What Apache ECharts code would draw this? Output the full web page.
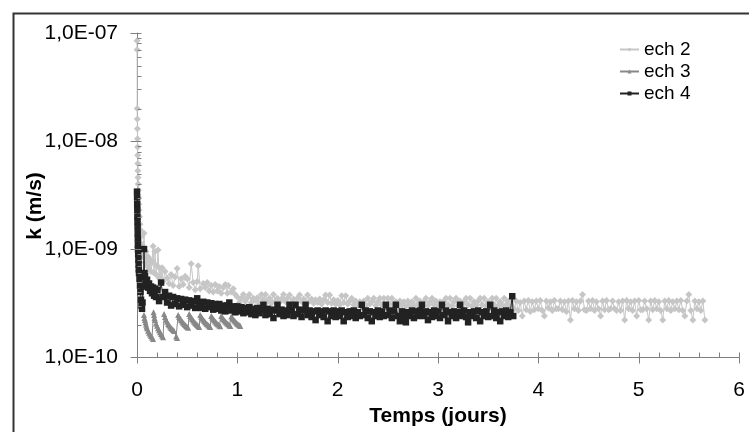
<!DOCTYPE html>
<html>
<head>
<meta charset="utf-8">
<script src="https://cdn.jsdelivr.net/npm/echarts@6/dist/echarts.min.js"></script>
<style>
html,body{margin:0;padding:0;background:#fff;}
#chart{width:749px;height:432px;}
</style>
</head>
<body>
<div id="chart"></div>
<script>
// k values are given in units of 1e-10 m/s
var K_UNIT = 1e-10;

var seriesNames = ['ech 2', 'ech 3', 'ech 4'];
var xTitle = 'Temps (jours)';
var yTitle = 'k (m/s)';

// ech 2 : [time (days), k (1e-10 m/s)]
var ech2 = [
[0,850],[0.001,700],[0.002,200],[0.003,160],[0.004,130],[0.005,105],[0.006,88],[0.007,74],[0.008,62],[0.009,53],
[0.01,46],[0.012,40],[0.014,35],[0.016,30],[0.018,26],[0.02,23],[0.025,20],[0.03,17],[0.035,15],[0.04,13],
[0.05,11],[0.06,8.5],[0.07,14],[0.08,7.5],[0.09,9.5],[0.10,7.0],[0.11,8.5],[0.12,6.5],[0.13,8.0],[0.14,6.2],
[0.15,7.5],[0.16,10.6],[0.17,6.0],[0.18,9.5],[0.19,5.8],[0.20,7.0],[0.21,9.8],[0.22,5.4],[0.23,6.6],[0.24,5.2],
[0.25,6.7],[0.26,5.0],[0.28,6.2],[0.30,5.4],[0.32,4.8],[0.34,5.8],[0.36,4.6],[0.38,5.5],[0.40,6.6],[0.42,4.5],
[0.44,5.3],[0.46,4.7],[0.48,5.6],[0.50,5.3],[0.52,4.4],[0.54,7.3],[0.56,4.9],[0.58,4.2],[0.60,5.0],[0.61,7.0],
[0.63,4.3],[0.66,4.8],[0.68,4.4],[0.70,4.9],[0.72,4.1],[0.74,4.6],[0.76,4.0],[0.78,4.7],[0.80,4.1],[0.82,4.5],
[0.84,3.9],[0.86,4.4],[0.88,4.7],[0.90,3.9],[0.91,4.6],[0.94,4.0],[0.96,4.3],[0.98,3.8],
[1.00,3.6],[1.02,3.2],[1.04,3.5],[1.06,3.8],[1.08,3.3],[1.10,3.55],[1.12,3.8],[1.14,3.2],[1.16,3.5],[1.18,3.35],
[1.20,3.55],[1.22,3.15],[1.24,3.8],[1.26,3.4],[1.28,3.8],[1.30,3.25],[1.32,3.5],[1.34,3.15],[1.36,3.8],[1.38,3.3],
[1.40,3.5],[1.42,3.2],[1.44,3.45],[1.46,3.8],[1.48,3.25],[1.50,3.5],[1.52,3.75],[1.54,3.2],[1.56,3.45],[1.58,3.1],
[1.60,3.5],[1.62,3.75],[1.64,3.25],[1.66,3.45],[1.68,3.1],[1.70,3.75],[1.72,3.3],[1.74,3.45],[1.76,3.15],[1.78,3.4],
[1.80,3.2],[1.82,3.45],[1.84,3.1],[1.86,3.4],[1.88,3.75],[1.90,3.2],[1.92,3.75],[1.94,3.15],[1.96,3.4],[1.98,3.1],
[2.00,3.35],[2.02,3.05],[2.04,3.7],[2.06,3.2],[2.08,3.7],[2.10,3.1],[2.12,3.3],[2.14,3.5],[2.16,3.05],[2.18,3.3],
[2.20,3.0],[2.22,3.25],[2.24,3.05],[2.26,3.3],[2.28,3.0],[2.30,3.5],[2.32,3.1],[2.34,3.25],[2.36,3.5],[2.38,3.0],
[2.40,3.25],[2.42,3.5],[2.44,3.05],[2.46,3.5],[2.48,3.0],[2.50,3.5],[2.52,3.1],[2.54,3.5],[2.56,3.0],[2.58,3.25],
[2.60,2.95],[2.62,3.3],[2.64,3.0],[2.66,3.25],[2.68,2.95],[2.70,3.3],[2.72,3.05],[2.74,3.25],[2.76,2.95],[2.78,3.5],
[2.80,3.1],[2.82,3.3],[2.84,2.95],[2.86,3.25],[2.88,3.5],[2.90,3.0],[2.92,3.25],[2.94,3.5],[2.96,3.05],[2.98,3.3],
[3.00,2.95],[3.02,3.25],[3.04,3.0],[3.06,3.3],[3.08,3.5],[3.10,3.05],[3.12,3.5],[3.14,2.95],[3.16,3.25],[3.18,3.5],
[3.20,3.0],[3.22,3.3],[3.24,2.95],[3.26,3.25],[3.28,3.5],[3.30,3.05],[3.32,3.5],[3.34,2.95],[3.36,3.25],[3.38,3.0],
[3.40,3.3],[3.42,3.5],[3.44,3.05],[3.46,3.5],[3.48,2.95],[3.50,3.25],[3.52,3.0],[3.54,3.5],[3.56,3.05],[3.58,3.5],
[3.60,2.95],[3.62,3.25],[3.64,3.0],[3.66,3.5],[3.68,3.05],[3.70,3.3],[3.72,2.95],[3.74,3.5],
[3.76,2.8],[3.78,3.3],[3.80,2.7],[3.82,3.2],[3.84,2.4],[3.86,3.3],[3.88,2.75],[3.90,3.35],[3.92,2.65],[3.94,3.25],
[3.96,2.75],[3.98,3.3],[4.00,2.8],[4.02,3.35],[4.04,2.7],[4.06,2.4],[4.08,3.3],[4.10,2.85],[4.12,3.25],[4.14,2.7],
[4.16,3.35],[4.18,2.8],[4.20,2.8],[4.22,3.3],[4.24,2.75],[4.26,3.25],[4.28,2.65],[4.30,3.3],[4.32,2.2],[4.34,3.35],
[4.36,2.8],[4.38,3.25],[4.40,2.7],[4.42,3.3],[4.44,3.8],[4.46,2.75],[4.48,2.7],[4.50,3.3],[4.52,2.8],[4.54,3.35],
[4.56,2.7],[4.58,3.25],[4.60,2.8],[4.62,2.4],[4.64,3.3],[4.66,2.75],[4.68,3.35],[4.70,2.75],[4.72,2.8],[4.74,3.3],
[4.76,2.8],[4.78,2.7],[4.80,3.25],[4.82,2.7],[4.84,3.3],[4.86,2.2],[4.88,3.35],[4.90,2.8],[4.92,3.25],[4.94,2.7],
[4.96,3.3],[4.98,2.4],[5.00,3.35],[5.02,2.75],[5.04,2.75],[5.06,3.3],[5.08,2.8],[5.10,2.2],[5.12,3.3],[5.14,2.75],
[5.16,3.35],[5.18,2.8],[5.20,3.25],[5.22,2.7],[5.24,2.2],[5.26,3.3],[5.28,2.8],[5.30,3.35],[5.32,2.7],[5.34,3.25],
[5.36,2.8],[5.38,3.3],[5.40,2.75],[5.42,3.35],[5.44,2.7],[5.46,2.4],[5.48,3.3],[5.50,3.8],[5.52,2.7],[5.54,2.2],
[5.56,3.3],[5.58,2.8],[5.60,3.25],[5.62,2.7],[5.64,3.3],[5.66,2.2]
];

// ech 3 : [time (days), k (1e-10 m/s)]
var ech3 = [
[0.07,2.45],[0.075,2.3],[0.08,2.2],[0.085,2.1],[0.09,2.0],[0.095,1.92],[0.10,1.85],[0.11,1.75],[0.12,1.68],[0.13,1.62],
[0.14,1.57],[0.15,1.52],[0.16,1.47],
[0.165,2.6],[0.17,2.45],[0.175,2.3],[0.18,2.2],[0.19,2.05],[0.20,1.95],[0.21,1.85],[0.22,1.77],[0.23,1.7],[0.24,1.64],
[0.25,1.58],[0.26,1.53],
[0.27,2.5],[0.28,2.35],[0.29,2.22],[0.30,2.12],[0.31,2.03],[0.32,1.97],[0.33,1.91],[0.34,1.86],[0.35,1.82],[0.36,1.78],
[0.37,1.74],[0.39,1.55],[0.40,1.5],
[0.41,2.45],[0.42,2.35],[0.43,2.28],[0.44,2.2],[0.45,2.14],[0.46,2.08],[0.47,2.03],[0.48,1.98],[0.49,1.94],[0.50,1.9],[0.51,1.87],
[0.52,2.5],[0.53,2.4],[0.54,2.32],[0.55,2.25],[0.56,2.18],[0.57,2.12],[0.58,2.07],[0.59,2.02],[0.60,1.98],[0.61,1.94],[0.62,1.9],
[0.63,2.45],[0.64,2.36],[0.65,2.28],[0.66,2.22],[0.67,2.16],[0.68,2.1],[0.69,2.05],[0.70,2.01],[0.71,1.97],[0.72,1.93],[0.73,1.9],
[0.74,2.4],[0.75,2.32],[0.76,2.25],[0.77,2.19],[0.78,2.13],[0.79,2.08],[0.80,2.04],[0.81,2.0],[0.82,1.96],[0.83,1.93],
[0.84,2.4],[0.85,2.32],[0.86,2.25],[0.87,2.19],[0.88,2.14],[0.89,2.09],[0.90,2.05],[0.91,2.01],[0.92,1.97],[0.93,1.94],
[0.94,2.38],[0.95,2.3],[0.96,2.24],[0.97,2.18],[0.98,2.13],[0.99,2.08],[1.00,2.04],[1.01,2.0],[1.02,1.97],[1.03,1.94]
];

// ech 4 : [time (days), k (1e-10 m/s)]
var ech4 = [
[0,34],[0.001,30],[0.002,26],[0.003,23],[0.004,20],[0.005,18],[0.006,16],[0.007,14],[0.008,12.5],[0.009,11],
[0.01,10],[0.012,9],[0.014,8],[0.016,7.2],[0.018,6.5],[0.02,6],[0.025,5.3],[0.03,4.6],[0.035,4],[0.04,3.4],
[0.045,3],[0.05,2.8],[0.055,3.2],[0.06,4.5],[0.065,5.5],[0.07,10],[0.075,6],[0.08,5.6],[0.09,4.8],[0.1,5.2],
[0.11,4.4],[0.12,4.8],[0.13,4.1],[0.14,4.5],[0.15,3.9],[0.16,4.4],[0.17,3.7],[0.18,4.3],[0.19,3.6],
[0.20,4.2],[0.22,3.3],[0.24,4.9],[0.26,3.6],[0.28,4.0],[0.30,3.2],[0.32,3.7],[0.34,3.0],[0.36,3.6],[0.38,3.1],
[0.40,3.5],[0.42,2.95],[0.44,3.45],[0.46,3.05],[0.48,3.4],[0.50,2.9],[0.52,3.35],[0.54,3.0],[0.56,3.3],[0.58,2.85],
[0.60,3.5],[0.62,3.2],[0.64,2.85],[0.66,3.25],[0.68,2.8],[0.70,3.2],[0.72,2.9],[0.74,3.15],[0.76,2.75],[0.78,3.1],
[0.80,2.8],[0.82,3.1],[0.84,2.7],[0.86,3.0],[0.88,2.65],[0.90,3.0],[0.92,3.2],[0.94,2.7],[0.96,2.95],[0.98,2.6],
[1.00,2.95],[1.02,2.65],[1.04,2.9],[1.06,2.55],[1.08,2.85],[1.10,2.6],[1.12,2.9],[1.14,2.5],[1.16,2.8],[1.18,2.45],
[1.20,2.85],[1.22,2.55],[1.24,2.8],[1.26,3.05],[1.28,2.45],[1.30,2.8],[1.32,2.5],[1.34,2.75],[1.36,2.3],[1.38,2.7],
[1.40,3.05],[1.42,2.5],[1.44,2.75],[1.46,2.4],[1.48,2.7],[1.50,2.45],[1.52,3.05],[1.54,2.7],[1.56,2.4],[1.58,3.05],
[1.60,2.5],[1.62,2.75],[1.64,2.35],[1.66,2.7],[1.68,3.05],[1.70,2.45],[1.72,2.7],[1.74,2.35],[1.76,2.65],[1.78,2.2],
[1.80,2.7],[1.82,2.45],[1.84,2.65],[1.86,2.35],[1.88,2.7],[1.90,2.15],[1.92,2.65],[1.94,2.4],[1.96,2.7],[1.98,2.35],
[2.00,2.65],[2.02,2.4],[2.04,2.7],[2.06,2.15],[2.08,2.6],[2.10,2.35],[2.12,2.65],[2.14,2.4],[2.16,2.7],[2.18,2.3],
[2.20,2.6],[2.22,2.4],[2.24,3.05],[2.26,2.45],[2.28,2.7],[2.30,2.3],[2.32,2.65],[2.34,2.15],[2.36,2.6],[2.38,2.4],
[2.40,2.7],[2.42,2.35],[2.44,2.65],[2.46,2.4],[2.48,3.05],[2.50,2.45],[2.52,2.7],[2.54,2.3],[2.56,2.65],[2.58,3.05],
[2.60,2.4],[2.62,2.15],[2.64,2.65],[2.66,2.35],[2.68,2.1],[2.70,2.6],[2.72,2.4],[2.74,2.7],[2.76,2.3],[2.78,2.65],
[2.80,2.4],[2.82,2.7],[2.84,3.05],[2.86,2.4],[2.88,2.65],[2.90,2.2],[2.92,2.6],[2.94,2.35],[2.96,2.7],[2.98,2.4],
[3.00,2.65],[3.02,2.3],[3.04,3.05],[3.06,2.45],[3.08,2.7],[3.10,2.15],[3.12,2.6],[3.14,2.4],[3.16,2.65],[3.18,2.3],
[3.20,2.6],[3.22,3.05],[3.24,2.4],[3.26,2.7],[3.28,2.35],[3.30,2.1],[3.32,2.6],[3.34,2.4],[3.36,2.65],[3.38,2.3],
[3.40,2.7],[3.42,2.15],[3.44,2.6],[3.46,2.4],[3.48,2.65],[3.50,2.35],[3.52,3.05],[3.54,2.4],[3.56,2.7],[3.58,2.3],
[3.60,2.6],[3.62,2.15],[3.64,2.65],[3.66,2.4],[3.68,2.7],[3.70,2.35],[3.72,2.6],[3.74,3.66],[3.75,2.4]
];

// axis ticks
var xMajor = [0, 1, 2, 3, 4, 5, 6];
var xMinorStep = 0.2;
var yMajor = [1e-10, 1e-9, 1e-8, 1e-7];
var yMinorMult = [2, 3, 4, 5, 6, 7, 8, 9];

var FONT = "'Liberation Sans', Arial, sans-serif";
var AXIS_COLOR = '#808080';

function toPairs(arr) {
  return arr.map(function (p) { return [p[0], p[1] * K_UNIT]; });
}

// tick marks drawn through the axes' scales
var tickData = [];
yMajor.forEach(function (v, i) {
  tickData.push([0, v, 0]);
  if (i < yMajor.length - 1) {
    yMinorMult.forEach(function (m) { tickData.push([0, v * m, 1]); });
  }
});
xMajor.forEach(function (v, i) {
  tickData.push([v, yMajor[0], 2]);
  if (i < xMajor.length - 1) {
    for (var j = 1; j < 5; j++) tickData.push([v + j * xMinorStep, yMajor[0], 3]);
  }
});

function fmtY(v) {
  var e = Math.round(Math.log(v) / Math.LN10);
  var s = String(Math.abs(e));
  if (s.length < 2) s = '0' + s;
  return '1,0E' + (e < 0 ? '-' : '+') + s;
}

var chart = echarts.init(document.getElementById('chart'), null, {renderer: 'canvas'});
chart.setOption({
  animation: false,
  backgroundColor: '#ffffff',
  textStyle: {fontFamily: FONT, color: '#000'},
  grid: {left: 137, right: 10, top: 33, bottom: 63, containLabel: false},
  graphic: [{
    type: 'rect', left: 11, top: 11,
    shape: {width: 780, height: 460},
    style: {fill: 'none', stroke: '#333', lineWidth: 2},
    silent: true, z: 100
  }, {
    type: 'text', x: 35, y: 206, rotation: Math.PI / 2,
    style: {text: yTitle, font: "bold 21px 'Liberation Sans', Arial, sans-serif",
            fill: '#000', align: 'center', verticalAlign: 'middle'},
    silent: true, z: 100
  }],
  legend: {
    data: seriesNames,
    orient: 'vertical',
    left: 614, top: 35,
    itemWidth: 19, itemHeight: 5, itemGap: 3,
    textStyle: {fontFamily: FONT, fontSize: 19, color: '#000'}
  },
  xAxis: {
    type: 'value', min: 0, max: 6, interval: 1,
    name: xTitle, nameLocation: 'middle', nameGap: 42,
    nameTextStyle: {fontFamily: FONT, fontSize: 21, fontWeight: 'bold', color: '#000'},
    axisLine: {show: true, onZero: false, lineStyle: {color: AXIS_COLOR, width: 1}},
    axisTick: {show: false},
    splitLine: {show: false},
    axisLabel: {fontFamily: FONT, fontSize: 21, color: '#000', margin: 23}
  },
  yAxis: {
    type: 'log', logBase: 10, min: 1e-10, max: 1e-7,
    axisLine: {show: true, lineStyle: {color: AXIS_COLOR, width: 1}},
    axisTick: {show: false},
    splitLine: {show: false},
    axisLabel: {fontFamily: FONT, fontSize: 21, color: '#000', margin: 19, formatter: fmtY}
  },
  series: [
    {
      name: 'ech 2', type: 'line', data: toPairs(ech2),
      symbol: 'diamond', symbolSize: 7, showSymbol: true,
      lineStyle: {color: '#c6c6c6', width: 1},
      itemStyle: {color: '#c6c6c6'}, z: 2
    },
    {
      name: 'ech 3', type: 'line', data: toPairs(ech3),
      symbol: 'triangle', symbolSize: 6, showSymbol: true,
      lineStyle: {color: '#888888', width: 1},
      itemStyle: {color: '#888888'}, z: 3
    },
    {
      name: 'ech 4', type: 'line', data: toPairs(ech4),
      symbol: 'rect', symbolSize: 6.5, showSymbol: true,
      lineStyle: {color: '#222222', width: 1},
      itemStyle: {color: '#222222'}, z: 4
    },
    {
      type: 'custom', silent: true, clip: false, z: 5,
      data: tickData,
      renderItem: function (params, api) {
        var p = api.coord([api.value(0), api.value(1)]);
        var kind = api.value(2);
        var x1, y1, x2, y2;
        if (kind === 0) { x1 = p[0] - 7; x2 = p[0] + 4; y1 = y2 = p[1]; }
        else if (kind === 1) { x1 = p[0]; x2 = p[0] + 4; y1 = y2 = p[1]; }
        else if (kind === 2) { y1 = p[1] - 5; y2 = p[1] + 6; x1 = x2 = p[0]; }
        else { y1 = p[1] - 5; y2 = p[1]; x1 = x2 = p[0]; }
        return {
          type: 'line',
          shape: {x1: Math.round(x1) + 0.5, y1: Math.round(y1) + 0.5, x2: Math.round(x2) + 0.5, y2: Math.round(y2) + 0.5},
          style: {stroke: AXIS_COLOR, lineWidth: 1}
        };
      }
    }
  ]
});
</script>
</body>
</html>
